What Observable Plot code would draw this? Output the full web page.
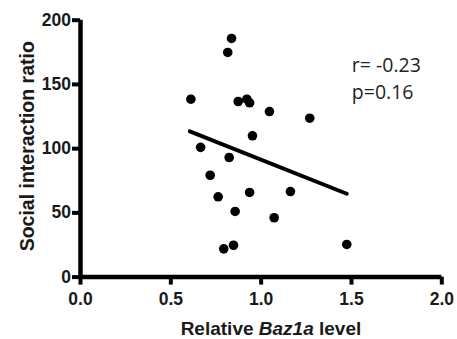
<!DOCTYPE html>
<html><head><meta charset="utf-8">
<script src="https://cdn.jsdelivr.net/npm/d3@7"></script>
<script src="https://cdn.jsdelivr.net/npm/@observablehq/plot@0.6"></script>
<style>html,body{margin:0;padding:0;background:#fff}</style>
</head><body><div id="chart"></div>
<script>
// Relative Baz1a level (x) and social interaction ratio (y)
const baz1aLevel = [0.836, 0.815, 0.611, 0.873, 0.921, 0.936, 1.046, 1.269, 0.952, 0.665,
                    0.823, 0.718, 0.762, 0.936, 1.162, 0.856, 1.072, 0.793, 0.847, 1.474];
const socialRatio = [185.8, 174.9, 138.5, 136.7, 138.5, 135.7, 128.9, 123.7, 110.0, 101.0,
                     93.1, 79.3, 62.5, 65.9, 66.6, 51.1, 46.2, 22.0, 24.8, 25.4];
// regression line end points
const fitX = [0.605, 1.474];
const fitY = [113.4, 64.9];
const xTicks = [0, 0.5, 1.0, 1.5, 2.0];
const yTicks = [0, 50, 100, 150, 200];
const statLabels = ["r= -0.23", "p=0.16"];
const statX = [1.502, 1.502];
const statY = [159.3, 138.3];
const xLabelParts = ["Relative ", "Baz1a", " level"];
const xLabel = xLabelParts.join("");
const yLabel = "Social interaction ratio";

const points = baz1aLevel.map((x, i) => ({x, y: socialRatio[i]}));
const fit = fitX.map((x, i) => ({x, y: fitY[i]}));

const chart = Plot.plot({
  width: 457, height: 339,
  marginLeft: 80, marginRight: 15.7, marginTop: 19.7, marginBottom: 62.4,
  x: {domain: [0, 2]},
  y: {domain: [0, 200]},
  style: {fontFamily: "'Liberation Sans', Arial, sans-serif", background: "white", color: "black"},
  marks: [
    Plot.axisX({ticks: xTicks, tickFormat: d3.format(".1f"), tickSize: 8, strokeWidth: 4, tickPadding: 7,
                fontSize: 17.5, fontWeight: "bold", fill: "#1a1a1a", label: null}),
    Plot.axisY({ticks: yTicks, tickSize: 8, strokeWidth: 4, tickPadding: 1.5,
                fontSize: 17.5, fontWeight: "bold", fill: "#1a1a1a", label: null}),
    Plot.ruleY([0], {strokeWidth: 4.5}),
    Plot.ruleX([0], {strokeWidth: 4.5}),
    Plot.line(fit, {x: "x", y: "y", strokeWidth: 4, stroke: "black"}),
    Plot.dot(points, {x: "x", y: "y", r: 4.8, fill: "black", stroke: "none"}),
    Plot.text(statLabels, {x: statX, y: statY, text: d => d, textAnchor: "start", lineAnchor: "bottom",
                           fontFamily: "'Open Sans', sans-serif", fontSize: 19.5, fill: "#231f20"}),
    Plot.text([xLabel], {frameAnchor: "bottom", dx: 9.8, dy: 57.4, lineAnchor: "bottom",
                         fontSize: 19, fontWeight: "bold", fill: "#1a1a1a"}),
    Plot.text([yLabel], {frameAnchor: "left", rotate: -90, dx: -46.7, dy: -2.4, textAnchor: "middle",
                         lineAnchor: "bottom", fontSize: 19.5, fontWeight: "bold", fill: "#1a1a1a"})
  ]
});

// italicize the gene name inside the x label
const t = [...chart.querySelectorAll("text")].find(e => e.textContent === xLabel);
if (t) {
  t.textContent = "";
  xLabelParts.forEach((p, i) => {
    const ts = document.createElementNS("http://www.w3.org/2000/svg", "tspan");
    ts.textContent = p;
    if (i === 1) ts.setAttribute("font-style", "italic");
    t.appendChild(ts);
  });
}
document.getElementById("chart").appendChild(chart);
</script>
</body></html>
